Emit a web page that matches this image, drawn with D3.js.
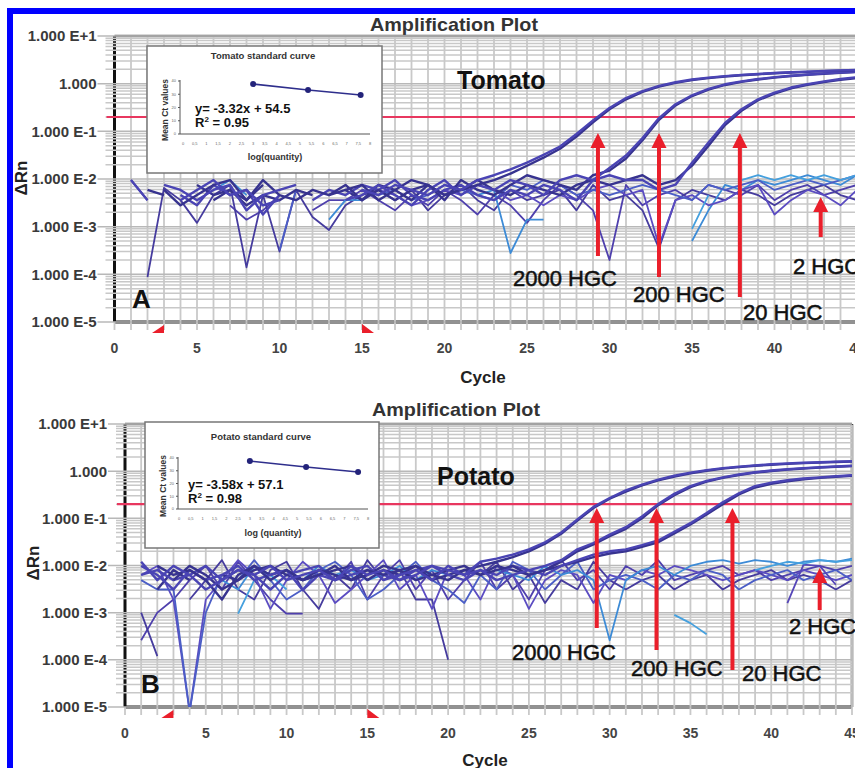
<!DOCTYPE html>
<html>
<head>
<meta charset="utf-8">
<script src="https://cdnjs.cloudflare.com/ajax/libs/d3/7.8.5/d3.min.js"></script>
<style>
body { margin: 0; background: #fff; }
svg { display: block; font-family: "Liberation Sans", Arial, sans-serif; }
</style>
</head>
<body>
<svg width="855" height="768"></svg>
<script>
const _ = null;

// ---- Tomato (A) : delta Rn per cycle 1..45 ----
const tomato2000a = [
  _, _, _, .0036, .0059, .0095, .0046, .0059, .0028, .0036, _, _, _, _, .0059,
  .0046, .0075, .0059, .0046, .0075, .0059, .0095, .012, .016, .022, .032, .048, .088, .17, .31,
  .50, .70, .90, 1.07, 1.22, 1.34, 1.44, 1.53, 1.60, 1.67, 1.73, 1.79, 1.85, 1.90, 1.95];
const tomato2000b = [
  _, _, .0059, .0028, .0046, .0075, .0095, .0036, .0075, _, _, _, .0046, .0059, .0075,
  .0036, .0059, .0095, .0075, .0046, .0059, .0075, .0095, .013, .019, .028, .043, .078, .155, .29,
  .47, .67, .87, 1.04, 1.19, 1.31, 1.41, 1.50, 1.58, 1.65, 1.71, 1.77, 1.83, 1.88, 1.93];
const tomato200a = [
  .0046, _, .0075, .0059, .0036, .0059, .0075, .0022, .0046, .0059, .0075, _, _, .0036, .0046,
  .0075, .0046, .0028, .0059, .0095, .0046, .0075, .0059, .0095, .0075, .0046, .0095, .012, .0095, .017,
  .031, .072, .19, .37, .57, .78, .97, 1.12, 1.25, 1.37, 1.47, 1.56, 1.64, 1.71, 1.78];
const tomato200b = [
  _, _, _, _, .0075, .0046, .0059, .0036, .0095, .0046, .0036, .0059, .0046, .0075, .0036,
  .0059, .0036, .0059, .0075, .0036, .0095, .0059, .0046, .0075, .012, .0095, .0075, .0059, .012, .015,
  .027, .065, .175, .35, .55, .75, .94, 1.09, 1.22, 1.34, 1.45, 1.54, 1.62, 1.69, 1.75];
const tomato20a = [
  .0095, .0036, _, .0046, .0028, .0075, .0046, .0059, .0018, .0046, _, .0036, .0059, .0046, .0075,
  .0059, .0095, .0046, .0036, .0059, .0075, .0046, .0036, .0059, .0046, .0075, .0059, .0036, .0095, .012,
  .0095, .0095, .0059, .0076, .022, .058, .15, .29, .47, .65, .83, .98, 1.12, 1.25, 1.37];
const tomato20b = [
  _, .0059, .0046, _, _, .0036, .0059, .0028, .0046, .0036, .0059, .0046, _, .0059, .0036,
  .0075, .0059, .0036, .0075, .0046, .0059, .0095, .0059, .0046, .0075, .0059, .0046, .0075, .0095, .0075,
  .0095, .012, .0075, .0095, .019, .05, .135, .27, .45, .62, .80, .95, 1.08, 1.2, 1.31];
const tomatoNeg1 = [
  .0095, .0036, _, _, _, _, .0028, .0014, .0022, .0046, _, .0022, .0036, .0036, .0059,
  .0036, .0022, .0046, .0028, .0059, .0036, .0018, .0046, .0028, .0012, .0036, .0075, .0046, .0022, .0002,
  .0075, .0028, .0046, .0059, .0036, .0075, .0059, .0046, .0075, .0036, .0059, .0075, .0046, .0059, .0075];
const tomatoNeg2 = [
  _, .000088, .0065, .0036, .0012, .0046, .0075, .00014, .0046, .0003, .0059, .0016, .00085, .0028, .0046,
  .0059, .0036, .0059, .0022, .0046, .0075, .0036, .0022, .0059, .0036, .0046, .0059, .0022, .0075, .0036,
  .0046, .0022, .00035, .0036, .0059, .0046, .0036, .0059, .0046, .0028, .0046, .0059, .0075, .0046, .0036];
const tomatoNeg3 = [
  _, _, _, _, _, .0059, .0095, .0046, _, _, _, _, .0014, .0036, .0036,
  _, _, _, _, _, _, .0046, .0059, .00028, .0014, .0014, _, _, _, _,
  _, _, _, _, .0005, .0022, .0075, .0059, .0095, .0075, .0095, .0121, .0095, .0075, .0121];
const tomatoNeg4 = [
  _, _, _, _, _, _, _, _, _, _, _, _, _, _, _,
  .0059, .0046, .0028, .0036, .0059, .0046, .0075, .0059, .0036, .0046, .0028, .0046, .0036, .0059, .0075,
  .0046, .0059, .0004, .0036, .0046, .0028, .0036, .0059, .0075, .0018, .0036, .0059, .0046, .0028, .0059];
const tomatoNeg5 = [
  _, _, _, _, _, _, _, _, _, .00032, .0059, _, _, _, .0059,
  .0046, .0059, .0036, .0046, .0075, .0059, .0046, .0036, .0075, .0059, .0095, .0075, .0046, .0059, .0046,
  .0059, .0075, .0059, .0046, .0036, .0075, .0059, .0075, .0095, .0059, .0075, .0095, .0075, .0095, .0121];
const tomatoNeg6 = [
  _, _, _, _, _, _, _, _, _, _, _, _, _, _, _,
  _, _, _, _, _, _, _, _, _, _, _, _, _, _, _,
  _, _, _, _, .0009, .0046, _, .0095, .012, .0095, .0121, .0095, .0121, .0095, .0121];

// ---- Potato (B) ----
const potato2000a = [
  .012, .0049, .0098, .0063, .0031, .0049, .0080, .0063, .0098, .0049, .0063, .0080, .0049, .0098, .0063,
  .0080, .0049, .0063, .0098, .0080, .0063, .012, .014, .017, .022, .031, .05, .095, .175, .27,
  .39, .52, .66, .80, .93, 1.05, 1.16, 1.25, 1.33, 1.40, 1.46, 1.51, 1.55, 1.59, 1.62];
const potato2000b = [
  _, .0098, .0063, .0080, .0049, .0019, .0063, .0098, .0049, .0080, .0049, .0063, .0098, .0049, .0080,
  .0063, .0080, .0098, .0063, .0049, .0080, .0098, .012, .015, .02, .029, .047, .09, .165, .26,
  .37, .50, .64, .77, .90, 1.02, 1.13, 1.22, 1.30, 1.37, 1.43, 1.48, 1.52, 1.56, 1.59];
const potato200a = [
  .0098, .0063, .0031, .0080, .0049, .0063, .0098, .0049, .0063, .0080, .0030, .0063, .0049, .0080, .0098,
  .0049, .0063, .0080, .0049, .0098, .0063, .0080, .0049, .0063, .0080, .0098, .013, .022, .030, .045,
  .065, .11, .20, .33, .48, .62, .74, .85, .95, 1.03, 1.10, 1.16, 1.21, 1.26, 1.30];
const potato200b = [
  _, _, .0049, .0098, .0063, .0031, .0049, .0080, .0098, .0063, .0049, .0080, .0063, .0049, .0063,
  .0098, .0080, .0049, .0063, .0080, .0098, .0063, .0080, .0098, .0063, .0080, .012, .020, .028, .042,
  .06, .10, .19, .31, .46, .60, .72, .83, .93, 1.01, 1.08, 1.14, 1.19, 1.24, 1.28];
const potato20a = [
  .0063, .0080, .0049, .0063, .0098, .0049, .0080, .0063, .0031, .0063, .0080, .0098, .0049, .0063, .0080,
  .0063, .0049, .0080, .0098, .0063, .0049, .0080, .0063, .0098, .0080, .0063, .0098, .013, .017, .020,
  .022, .027, .034, .052, .079, .13, .22, .34, .48, .57, .64, .70, .74, .78, .82];
const potato20b = [
  _, .0031, .0080, .0049, _, .0063, .0049, .0098, .0063, .0080, .0049, .0063, .0080, .0098, .0049,
  .0080, .0063, .0098, .0049, .0063, .0080, .0063, .0098, .0080, .0063, .0080, .0098, .012, .015, .018,
  .020, .025, .031, .048, .074, .12, .20, .32, .45, .54, .61, .67, .72, .76, .80];
const potatoNeg1 = [
  .00026, .0010, .0019, .0049, .0098, .0031, .0120, .0049, .0019, .00095, .00095, _, .0049, .0120, .0019,
  .0063, .0130, .0031, .0080, .0019, .0049, .0120, .0031, .0063, .0019, .0080, .0130, .0049, .0080, .0031,
  .0098, .0063, .0130, .0049, .0063, .0080, .0098, .0063, .0080, .0049, .0063, .0080, .0098, .0080, .0098];
const potatoNeg2 = [
  .0010, .00012, _, .0019, .0049, .0130, .0031, .0019, .0080, .0120, .0031, .0012, .0063, .0031, .0130,
  .0049, .0080, .0019, .0019, .0001, _, .0063, .0120, .0031, .0063, .0016, .0049, .0031, .0120, .0049,
  .0031, .0049, .0063, .0031, .0049, .0063, .0031, .0049, .0063, .0080, .0049, .0063, .0049, .0031, .0049];
const potatoNeg3 = [
  .0063, .0098, .0019, .000008, .0019, .0049, .0130, .0063, .0012, .0049, .0120, .0063, .0016, .0031, .0063,
  .0130, .0031, .0063, .0012, .0080, .0063, .0019, .0098, .0063, .0012, .0049, .0080, .0063, .0016, .0063,
  .0049, .0080, .0063, .0098, .0080, .0063, .0049, .0063, .0080, .0063, .0049, .0080, .0063, .0049, .0063];
const potatoNeg4 = [
  .0049, .0031, .0031, .000008, .0010, .0063, .0049, .0130, .0049, .0019, .0031, .0080, .0120, .0063, .0019,
  .0031, .0063, .0120, .0049, .0031, .0016, .0063, .0031, .0120, .0080, .0031, .0063, .0120, .0031, .0049,
  .0063, .0049, .0031, .0063, .0049, .0080, .0063, .0031, .0049, .0063, .0080, .0049, .0063, .0080, .0049];
const potatoNeg5 = [
  _, _, _, _, _, _, _, _, _, _, _, _, _, _, _,
  _, _, _, _, _, _, _, _, _, _, _, _, _, _, _,
  _, _, _, _, _, _, _, _, _, _, .0016, .0104, .0098, .0039, _];
const potatoCyan1 = [
  _, _, _, _, _, .0049, .0031, .0098, .0063, .0080, .0049, .0098, .0063, .0080, .0049,
  .0063, .0098, .0049, .0080, .0063, _, _, .0080, .0063, .0049, .0098, .0063, .0080, .0049, .00026,
  .0049, .0080, .0098, .0063, .0098, .012, .013, .011, .013, .012, .0098, .012, .013, .012, .014];
const potatoCyan2 = [
  _, _, _, _, _, _, .00095, .0049, .0063, .0031, _, _, _, _, _,
  _, _, _, _, _, _, _, _, _, _, _, _, _, _, _,
  _, _, _, .0009, .0006, .00035, _, _, .0080, .0098, .012, .011, .013, .012, .013];

const threshold = 0.2;
const hgcLabels = ["2000 HGC", "200 HGC", "20 HGC", "2 HGC"];
const tomatoArrowCycles = [29.3, 33.0, 37.9, 42.8];
const potatoArrowCycles = [29.2, 32.9, 37.6, 43.0];
const baselineCycles = [3, 15];

// standard curves (log quantity vs mean Ct)
const tomatoStdX = [3.0, 5.35, 7.6];
const tomatoStdY = [37.7, 33.2, 29.4];
const potatoStdX = [3.0, 5.38, 7.58];
const potatoStdY = [37.6, 32.9, 29.0];
const stdXTicks = ["0","0,5","1","1,5","2","2,5","3","3,5","4","4,5","5","5,5","6","6,5","7","7,5","8"];
const stdYTicks = [0, 10, 20, 30, 40];

const svg = d3.select("svg");
const defs = svg.append("defs");
const red = "#ea1f2b";

function isDecade(v) {
  const l = Math.log10(v);
  return Math.abs(l - Math.round(l)) < 1e-6;
}
function fmtDecade(v) {
  const e = Math.round(Math.log10(v));
  if (e === 0) return "1.000";
  return "1.000 E" + (e > 0 ? "+" : "-") + Math.abs(e);
}

function drawPanel(p) {
  const g = svg.append("g");
  const x = d3.scaleLinear().domain([0, 45]).range([p.left, p.right]);
  const y = d3.scaleLog().domain([1e-5, 10]).range([p.bottom, p.top]);

  defs.append("clipPath").attr("id", "clip" + p.id)
    .append("rect")
    .attr("x", p.left).attr("y", p.top)
    .attr("width", p.right - p.left).attr("height", p.bottom - p.top);

  // title
  g.append("text").attr("x", p.titleX).attr("y", p.titleY)
    .attr("text-anchor", "middle").attr("font-weight", "bold")
    .attr("font-size", 19).attr("fill", "#333")
    .attr("textLength", 168).attr("lengthAdjust", "spacingAndGlyphs")
    .text("Amplification Plot");

  // frame
  g.append("line").attr("x1", p.left).attr("x2", x(45)).attr("y1", p.top).attr("y2", p.top)
    .attr("stroke", "#666").attr("stroke-width", 2.5);
  g.append("line").attr("x1", p.left).attr("x2", x(45)).attr("y1", p.bottom).attr("y2", p.bottom)
    .attr("stroke", "#222").attr("stroke-width", 3);
  g.append("line").attr("x1", p.left).attr("x2", p.left).attr("y1", p.top).attr("y2", p.bottom)
    .attr("stroke", "#111").attr("stroke-width", 3);
  g.append("line").attr("x1", x(45)).attr("x2", x(45)).attr("y1", p.top).attr("y2", p.bottom)
    .attr("stroke", "#444").attr("stroke-width", 2.5);

  // grid
  g.append("g").selectAll("line").data(d3.range(1, 46)).join("line")
    .attr("x1", d => x(d)).attr("x2", d => x(d))
    .attr("y1", p.top + 1).attr("y2", p.bottom + 8)
    .attr("stroke", "#c9c9c9").attr("stroke-width", 1.8);
  g.append("line").attr("x1", x(0)).attr("x2", x(0)).attr("y1", p.bottom).attr("y2", p.bottom + 8)
    .attr("stroke", "#c9c9c9").attr("stroke-width", 1.8);

  const yt = y.ticks();
  g.append("g").selectAll("line").data(yt).join("line")
    .attr("x1", d => isDecade(d) ? p.left - 17 : p.left - 9)
    .attr("x2", p.right)
    .attr("y1", d => y(d)).attr("y2", d => y(d))
    .attr("stroke", d => isDecade(d) ? "#b8b8b8" : "#c8c8c8")
    .attr("stroke-width", 1.5);

  // y labels
  g.append("g").selectAll("text").data(yt.filter(isDecade)).join("text")
    .attr("x", p.left - 18).attr("y", d => y(d)).attr("dy", "0.36em")
    .attr("text-anchor", "end").attr("font-weight", "bold").attr("font-size", 15)
    .attr("fill", "#3a3a3a").text(fmtDecade);

  g.append("text")
    .attr("transform", `translate(${p.yLabelX},${p.yLabelY}) rotate(-90)`)
    .attr("text-anchor", "middle").attr("font-weight", "bold").attr("font-size", 17)
    .attr("fill", "#222").text("ΔRn");

  // x labels
  g.append("g").selectAll("text").data(d3.range(0, 46, 5)).join("text")
    .attr("x", d => x(d)).attr("y", p.bottom + 31)
    .attr("text-anchor", "middle").attr("font-weight", "bold").attr("font-size", 14)
    .attr("fill", "#444").text(d => d);
  g.append("text").attr("x", p.cycleX).attr("y", p.cycleY)
    .attr("text-anchor", "middle").attr("font-weight", "bold").attr("font-size", 17)
    .attr("fill", "#222").text("Cycle");

  // threshold
  g.append("line").attr("x1", p.left - 8).attr("x2", p.right)
    .attr("y1", y(threshold)).attr("y2", y(threshold))
    .attr("stroke", "#e8375f").attr("stroke-width", 2.2);

  // baseline markers
  g.append("path")
    .attr("d", `M${x(baselineCycles[0]) - 12},${p.bottom + 11}L${x(baselineCycles[0])},${p.bottom + 11}L${x(baselineCycles[0])},${p.bottom + 3}Z`)
    .attr("fill", red);
  g.append("path")
    .attr("d", `M${x(baselineCycles[1])},${p.bottom + 2}L${x(baselineCycles[1])},${p.bottom + 11}L${x(baselineCycles[1]) + 12},${p.bottom + 11}Z`)
    .attr("fill", red);

  // traces
  const line = d3.line()
    .defined(d => d != null)
    .x((d, i) => x(i + 1))
    .y(d => y(d));
  const tg = g.append("g").attr("clip-path", `url(#clip${p.id})`);
  p.noise.forEach((s, i) => {
    tg.append("path").datum(s).attr("d", line)
      .attr("fill", "none").attr("stroke", p.noiseColors[i])
      .attr("stroke-width", 1.8).attr("stroke-linejoin", "round");
  });
  p.amp.forEach((s, i) => {
    tg.append("path").datum(s).attr("d", line)
      .attr("fill", "none").attr("stroke", i % 2 ? "#4a44b4" : "#37338f")
      .attr("stroke-width", 2.4).attr("stroke-linejoin", "round");
  });

  // arrows and labels
  p.arrowCycles.forEach((c, i) => {
    const ax = x(c);
    g.append("line").attr("x1", ax).attr("x2", ax)
      .attr("y1", p.arrowTip[i] + 10).attr("y2", p.arrowTail[i])
      .attr("stroke", red).attr("stroke-width", 4);
    g.append("path")
      .attr("d", `M${ax},${p.arrowTip[i]}L${ax - 7.5},${p.arrowTip[i] + 15}L${ax + 7.5},${p.arrowTip[i] + 15}Z`)
      .attr("fill", red);
    g.append("text").attr("x", p.labelX[i]).attr("y", p.labelY[i])
      .attr("font-size", 22).attr("fill", "#111")
      .attr("stroke", "#111").attr("stroke-width", 0.5)
      .text(hgcLabels[i]);
  });

  g.append("text").attr("x", p.nameX).attr("y", p.nameY)
    .attr("font-weight", "bold").attr("font-size", 25).attr("fill", "#111").text(p.name);
  g.append("text").attr("x", p.letterX).attr("y", p.letterY)
    .attr("font-weight", "bold").attr("font-size", 26).attr("fill", "#111").text(p.letter);

  drawInset(p.inset);
}

function drawInset(b) {
  const g = svg.append("g");
  g.append("rect").attr("x", b.x).attr("y", b.y).attr("width", b.w).attr("height", b.h)
    .attr("fill", "#fff").attr("stroke", "#777").attr("stroke-width", 1.5);
  const sx = d3.scaleLinear().domain([0, 8]).range([b.x + b.x0, b.x + b.x8]);
  const sy = d3.scaleLinear().domain([0, 40]).range([b.y + b.y0, b.y + b.y40]);
  const ax = b.x + 33;

  g.append("text").attr("x", b.x + 116).attr("y", b.y + b.titleDy)
    .attr("text-anchor", "middle").attr("font-size", 9.5).attr("font-weight", "bold")
    .attr("fill", "#333").text(b.title);

  g.append("line").attr("x1", ax).attr("x2", ax).attr("y1", sy(0)).attr("y2", sy(40) - 1)
    .attr("stroke", "#555").attr("stroke-width", 1);
  g.append("line").attr("x1", ax).attr("x2", sx(8)).attr("y1", sy(0)).attr("y2", sy(0))
    .attr("stroke", "#555").attr("stroke-width", 1);
  g.append("g").selectAll("line").data(stdYTicks).join("line")
    .attr("x1", ax - 2).attr("x2", ax).attr("y1", d => sy(d)).attr("y2", d => sy(d))
    .attr("stroke", "#555");
  g.append("g").selectAll("text").data(stdYTicks).join("text")
    .attr("x", ax - 4).attr("y", d => sy(d)).attr("dy", "0.35em")
    .attr("text-anchor", "end").attr("font-size", 4).attr("fill", "#666").text(d => d);
  g.append("g").selectAll("text").data(stdXTicks).join("text")
    .attr("x", (d, i) => sx(i / 2)).attr("y", sy(0) + 11)
    .attr("text-anchor", "middle").attr("font-size", 4).attr("fill", "#666").text(d => d);

  g.append("text")
    .attr("transform", `translate(${b.x + 21},${b.y + 64}) rotate(-90)`)
    .attr("text-anchor", "middle").attr("font-size", 8.5).attr("font-weight", "bold")
    .attr("fill", "#333").text("Mean Ct values");
  g.append("text").attr("x", b.x + 128).attr("y", b.y + 114)
    .attr("text-anchor", "middle").attr("font-size", 9).attr("font-weight", "bold")
    .attr("fill", "#333").text(b.xLabel);

  const pts = b.xs.map((v, i) => [v, b.ys[i]]);
  g.append("path").datum(pts)
    .attr("d", d3.line().x(d => sx(d[0])).y(d => sy(d[1])))
    .attr("fill", "none").attr("stroke", "#2e2e8c").attr("stroke-width", 1.6);
  g.append("g").selectAll("circle").data(pts).join("circle")
    .attr("cx", d => sx(d[0])).attr("cy", d => sy(d[1])).attr("r", 3)
    .attr("fill", "#23237a");

  g.append("text").attr("x", b.x + b.eqDx).attr("y", b.y + 67)
    .attr("font-size", 13).attr("font-weight", "bold").attr("fill", "#111").text(b.eq);
  const r = g.append("text").attr("x", b.x + b.eqDx).attr("y", b.y + 81)
    .attr("font-size", 13).attr("font-weight", "bold").attr("fill", "#111");
  r.append("tspan").text("R");
  r.append("tspan").attr("font-size", 8).attr("dy", -5).text("2");
  r.append("tspan").attr("dy", 5).text(" = " + b.r2);
}

const noiseColorsA = ["#4f40ad", "#463c9e", "#3d8bd6", "#5b4cc2", "#4b5ec6", "#45a0de"];
drawPanel({
  id: "A", left: 114.5, right: 857, top: 36, bottom: 322,
  titleX: 454, titleY: 31, yLabelX: 27, yLabelY: 178, cycleX: 483, cycleY: 383,
  noise: [tomatoNeg1, tomatoNeg2, tomatoNeg3, tomatoNeg4, tomatoNeg5, tomatoNeg6],
  noiseColors: noiseColorsA,
  amp: [tomato20b, tomato20a, tomato200b, tomato200a, tomato2000b, tomato2000a],
  arrowCycles: tomatoArrowCycles,
  arrowTip: [133, 133, 133, 197], arrowTail: [256, 277, 297, 237],
  labelX: [513, 633, 743, 793], labelY: [286, 302, 320, 274],
  name: "Tomato", nameX: 457, nameY: 89, letter: "A", letterX: 132, letterY: 308,
  inset: { x: 147, y: 46, w: 235, h: 127, x0: 36, x8: 223, y0: 88, y40: 35, titleDy: 13,
    title: "Tomato standard curve", xLabel: "log(quantity)", xs: tomatoStdX, ys: tomatoStdY,
    eq: "y= -3.32x + 54.5", r2: "0.95", eqDx: 48 }
});

const noiseColorsB = ["#4f40ad", "#463c9e", "#5b4cc2", "#4b5ec6", "#5546b8", "#3d8bd6", "#45a0de"];
drawPanel({
  id: "B", left: 125, right: 852, top: 424, bottom: 707,
  titleX: 456, titleY: 416, yLabelX: 39, yLabelY: 563, cycleX: 485, cycleY: 766,
  noise: [potatoNeg1, potatoNeg2, potatoNeg3, potatoNeg4, potatoNeg5, potatoCyan1, potatoCyan2],
  noiseColors: noiseColorsB,
  amp: [potato20b, potato20a, potato200b, potato200a, potato2000b, potato2000a],
  arrowCycles: potatoArrowCycles,
  arrowTip: [508, 508, 508, 568], arrowTail: [628, 650, 670, 610],
  labelX: [512, 631, 742, 789], labelY: [660, 676, 681, 634],
  name: "Potato", nameX: 437, nameY: 485, letter: "B", letterX: 141, letterY: 693,
  inset: { x: 145, y: 422, w: 234, h: 126, x0: 34, x8: 223, y0: 87, y40: 36, titleDy: 18,
    title: "Potato standard curve", xLabel: "log (quantity)", xs: potatoStdX, ys: potatoStdY,
    eq: "y= -3.58x + 57.1", r2: "0.98", eqDx: 43 }
});

// blue border (top and left)
svg.append("rect").attr("x", 7).attr("y", 8).attr("width", 6).attr("height", 760).attr("fill", "#0000ff");
svg.append("rect").attr("x", 7).attr("y", 8).attr("width", 848).attr("height", 6).attr("fill", "#0000ff");
</script>
</body>
</html>
